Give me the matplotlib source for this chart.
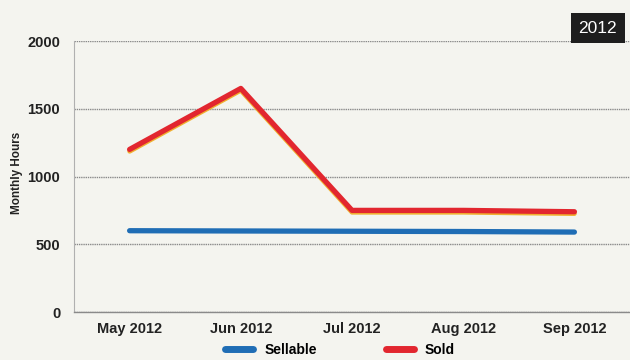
import matplotlib.pyplot as plt
from matplotlib.lines import Line2D

months = ["May 2012", "Jun 2012", "Jul 2012", "Aug 2012", "Sep 2012"]
sellable = [600, 598, 596, 594, 590]
sold = [1200, 1650, 750, 750, 740]
y_ticks = [0, 500, 1000, 1500, 2000]

BG = "#f4f4ef"
BLUE = "#1f6db5"
RED = "#e2262f"

plt.rcParams["font.family"] = ["Liberation Sans", "DejaVu Sans"]

fig = plt.figure(figsize=(6.3, 3.6), dpi=100, facecolor=BG)
ax = fig.add_axes([0.1175, 0.1333, 0.8825, 0.7528], facecolor=BG)

x = range(len(months))
ax.plot(x, sellable, color=BLUE, linewidth=3.8, solid_capstyle="round", zorder=3)
# yellowish under-edge of the red line
ax.plot(x, [v - 14 for v in sold], color="#f0b030", linewidth=3.4,
        solid_capstyle="round", zorder=3)
ax.plot(x, sold, color=RED, linewidth=3.8, solid_capstyle="round", zorder=4)

ax.set_xlim(-0.5, 4.5)
ax.set_ylim(0, 2000)
ax.set_xticks(list(x))
ax.set_xticklabels(months, fontsize=10.5, fontweight="bold", color="#222222")
ax.set_yticks(y_ticks)
ax.set_yticklabels([str(t) for t in y_ticks], fontsize=10.5, fontweight="bold",
                   color="#222222")
ax.tick_params(length=0, pad=10)
ax.tick_params(axis="x", pad=7)
ax.grid(axis="y", color="#8a8a8a", linewidth=1.0, linestyle=(0, (1, 0.6)))
for side in ["top", "right"]:
    ax.spines[side].set_visible(False)
ax.spines["left"].set_color("#b0b0b0")
ax.spines["left"].set_linewidth(0.8)
ax.spines["bottom"].set_color("#8a8a8a")
ax.spines["bottom"].set_linewidth(1.0)

fig.text(0.027, 0.52, "Monthly Hours", rotation=90, ha="center", va="center",
         fontsize=8.5, fontweight="bold", color="#222222")

fig.text(0.949, 0.922, "2012", ha="center", va="center", fontsize=12.5,
         color="white",
         bbox=dict(boxstyle="square,pad=0.45", facecolor="#1e1e1e",
                   edgecolor="none"))

handles = [Line2D([0], [0], color=BLUE, linewidth=5, solid_capstyle="round"),
           Line2D([0], [0], color=RED, linewidth=5, solid_capstyle="round")]
fig.legend(handles, ["Sellable", "Sold"], loc="lower center",
           bbox_to_anchor=(0.54, -0.025), ncol=2, frameon=False,
           handlelength=2.0, handletextpad=0.8, columnspacing=5.0,
           prop={"weight": "bold", "size": 10})

fig.savefig("out.png", dpi=100, facecolor=BG)
